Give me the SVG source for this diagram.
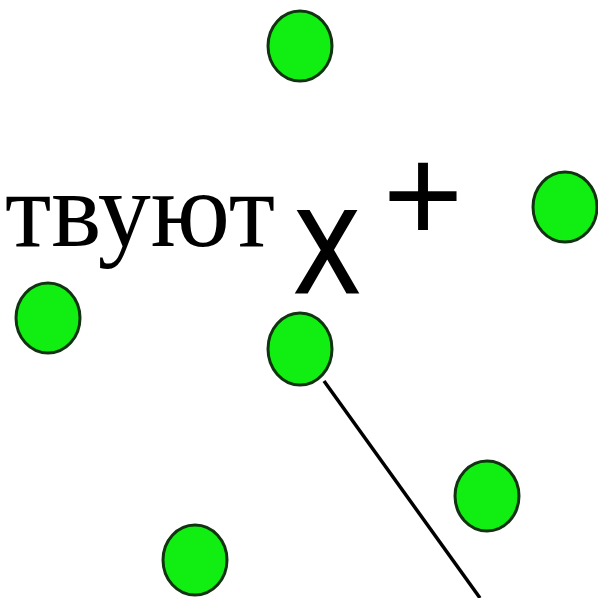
<svg xmlns="http://www.w3.org/2000/svg" width="598" height="598" viewBox="0 0 598 598">
<style>
.node{fill:#11ee11;stroke:#123312;stroke-width:3}
.edge{stroke:#000;stroke-width:3.5;fill:none}
.lbl{font-family:"Liberation Serif","Times New Roman",serif;fill:#000}
.sym{font-family:"Liberation Sans",Arial,sans-serif;fill:#000}
</style>
<rect width="598" height="598" fill="#fff"/>
<g id="connectors">
<line class="edge" x1="324" y1="381" x2="480" y2="598"/>
</g>
<g id="n1"><ellipse class="node" cx="300" cy="46" rx="32" ry="35"/></g>
<g id="n2"><ellipse class="node" cx="565" cy="207" rx="32" ry="35"/></g>
<g id="n3"><ellipse class="node" cx="48" cy="318" rx="32" ry="35"/></g>
<g id="n4"><ellipse class="node" cx="300" cy="349" rx="32" ry="36"/></g>
<g id="n5"><ellipse class="node" cx="487" cy="496" rx="32" ry="35"/></g>
<g id="n6"><ellipse class="node" cx="195" cy="560" rx="32" ry="35"/></g>
<g id="labels">
<text class="lbl" x="5" y="246" font-size="108" textLength="270" lengthAdjust="spacingAndGlyphs">твуют</text>
<text class="sym" transform="translate(327,292) scale(0.82,1)" text-anchor="middle" font-size="117" stroke="#000" stroke-width="3">X</text>
<text class="sym" x="423" y="242" text-anchor="middle" font-size="138">+</text>
</g>
</svg>
